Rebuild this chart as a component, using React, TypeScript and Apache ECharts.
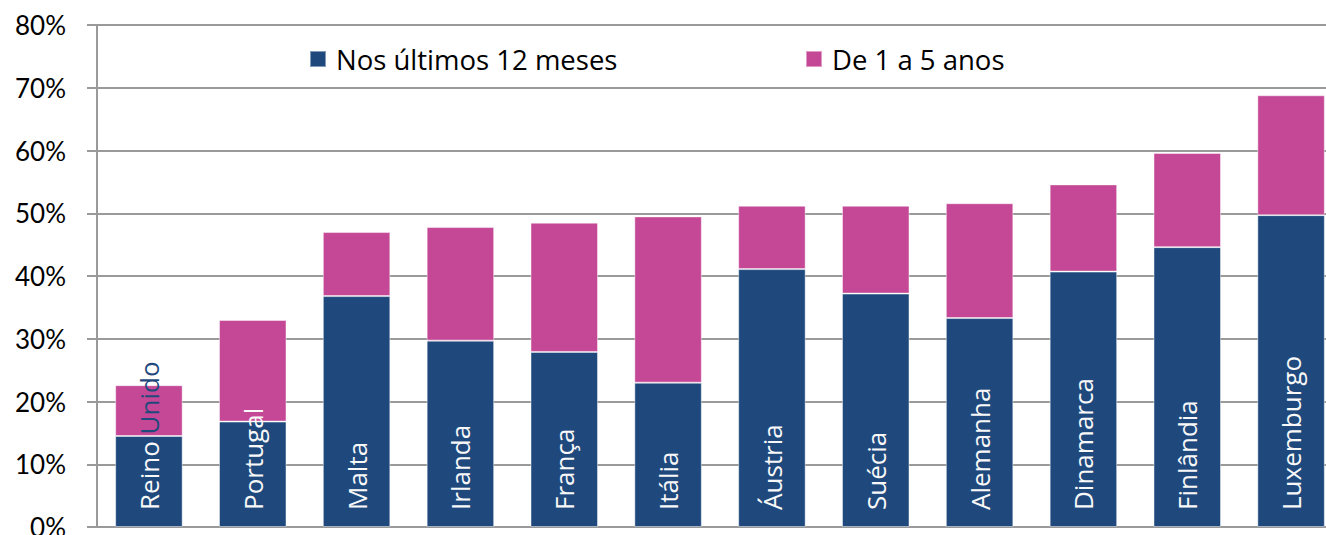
import React, { useEffect, useRef } from "react";
import * as echarts from "echarts";

// Countries, ordered by total share
const categories = [
  "Reino Unido",
  "Portugal",
  "Malta",
  "Irlanda",
  "França",
  "Itália",
  "Áustria",
  "Suécia",
  "Alemanha",
  "Dinamarca",
  "Finlândia",
  "Luxemburgo",
];

// Share (%) in the last 12 months
const last12Months = [14.5, 16.8, 36.8, 29.7, 27.9, 23.0, 41.1, 37.2, 33.3, 40.7, 44.6, 49.7];

// Additional share (%) from 1 to 5 years
const oneToFiveYears = [8.1, 16.2, 10.2, 18.1, 20.6, 26.5, 10.1, 14.0, 18.3, 13.9, 15.0, 19.1];

const seriesNames = ["Nos últimos 12 meses", "De 1 a 5 anos"];

const BLUE = "#1f497d";
const PINK = "#c54896";
const GRID = "#9a9a9a";
const AXIS_FONT = "Lato, 'Liberation Sans', sans-serif";
const LEGEND_FONT = "'Open Sans', 'Noto Sans', sans-serif";
const LABEL_FONT = "'Open Sans', 'Noto Sans', sans-serif";

export default function App() {
  const ref = useRef<HTMLDivElement>(null);

  useEffect(() => {
    document.body.style.margin = "0";
    if (!ref.current) return;
    const chart = echarts.init(ref.current, undefined, { renderer: "svg" });

    const legendText = {
      fontFamily: LEGEND_FONT,
      fontSize: 27.5,
      color: "#000",
      padding: [0, 0, 0, 5],
    };

    chart.setOption({
      animation: false,
      backgroundColor: "#ffffff",
      // the plot runs past the canvas edges (last bar and the 0% label are clipped)
      grid: {
        left: 97,
        width: 1246,
        top: 25,
        bottom: 8,
        containLabel: false,
        outerBoundsMode: "none",
      },
      legend: [
        {
          data: [seriesNames[0]],
          left: 304,
          top: 40,
          itemWidth: 16,
          itemHeight: 16,
          itemGap: 0,
          icon: "rect",
          textStyle: legendText,
        },
        {
          data: [seriesNames[1]],
          left: 800,
          top: 40,
          itemWidth: 16,
          itemHeight: 16,
          itemGap: 0,
          icon: "rect",
          textStyle: legendText,
        },
      ],
      xAxis: {
        type: "category",
        data: categories,
        boundaryGap: true,
        axisLine: { show: true, lineStyle: { color: GRID, width: 2 } },
        axisTick: { show: false },
        axisLabel: { show: false },
      },
      yAxis: {
        type: "value",
        min: 0,
        max: 80,
        interval: 10,
        axisLine: { show: true, lineStyle: { color: GRID, width: 2 } },
        axisTick: { show: true, length: 10, lineStyle: { color: GRID, width: 2 } },
        axisLabel: {
          formatter: "{value}%",
          margin: 31,
          fontFamily: AXIS_FONT,
          fontSize: 26,
          color: "#000",
        },
        splitLine: { show: true, lineStyle: { color: GRID, width: 2 } },
      },
      series: [
        {
          name: seriesNames[0],
          type: "bar",
          stack: "total",
          barCategoryGap: "35%",
          data: last12Months,
          itemStyle: { color: BLUE, borderColor: "rgba(255,255,255,0.45)", borderWidth: 1 },
          label: {
            show: true,
            position: "insideBottom",
            distance: 17,
            rotate: 90,
            align: "left",
            verticalAlign: "middle",
            fontFamily: LABEL_FONT,
            fontSize: 26,
            color: "#f8f8f8",
            formatter: (p: any) =>
              p.name === "Reino Unido" ? "{w|Reino }{b|Unido}" : p.name,
            rich: {
              w: { color: "#f8f8f8", fontFamily: LABEL_FONT, fontSize: 26 },
              b: { color: BLUE, fontFamily: LABEL_FONT, fontSize: 26 },
            },
          },
        },
        {
          name: seriesNames[1],
          type: "bar",
          stack: "total",
          barCategoryGap: "35%",
          data: oneToFiveYears,
          itemStyle: { color: PINK, borderColor: "rgba(255,255,255,0.45)", borderWidth: 1 },
        },
      ],
    });

    return () => chart.dispose();
  }, []);

  return <div ref={ref} style={{ width: 1326, height: 535 }} />;
}
